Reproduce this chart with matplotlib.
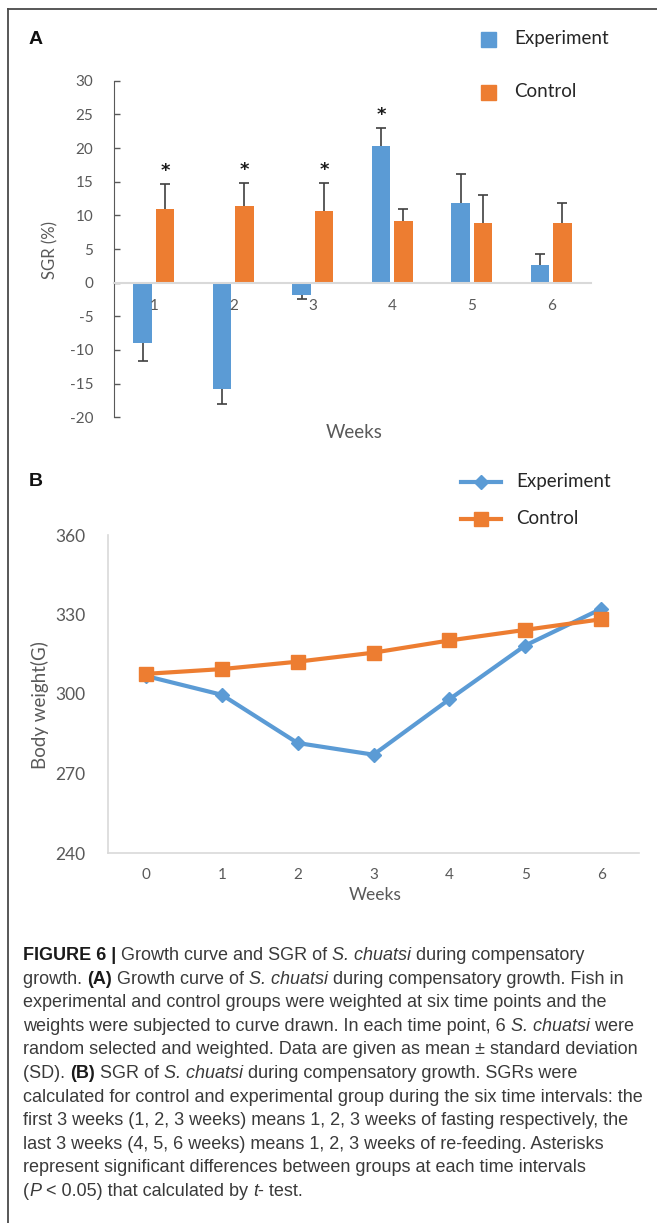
import matplotlib
matplotlib.use('Agg')
import matplotlib.pyplot as plt
from matplotlib import font_manager
from matplotlib.font_manager import FontProperties
from matplotlib.lines import Line2D
from matplotlib.patches import Rectangle
import numpy as np

# --- datos ---
sgr_weeks = ['1', '2', '3', '4', '5', '6']
sgr_exp = [-9.0, -15.8, -1.8, 20.3, 11.9, 2.6]
sgr_exp_sd = [2.7, 2.2, 0.6, 2.7, 4.2, 1.7]
sgr_ctrl = [10.9, 11.4, 10.6, 9.2, 8.9, 8.9]
sgr_ctrl_sd = [3.75, 3.4, 4.2, 1.7, 4.1, 2.9]
sig_exp = [False, False, False, True, False, False]
sig_ctrl = [True, True, True, False, False, False]

bw_weeks = ['0', '1', '2', '3', '4', '5', '6']
bw_exp = [306.8, 299.7, 281.5, 277.1, 298.0, 318.3, 332.1]
bw_ctrl = [307.6, 309.4, 312.2, 315.6, 320.2, 324.2, 328.2]

caption = [
    [("FIGURE 6 |", 'b'), (" Growth curve and SGR of ", 'n'), ("S. chuatsi", 'i'), (" during compensatory", 'n')],
    [("growth. ", 'n'), ("(A)", 'b'), (" Growth curve of ", 'n'), ("S. chuatsi", 'i'),
     (" during compensatory growth. Fish in", 'n')],
    [("experimental and control groups were weighted at six time points and the", 'n')],
    [("weights were subjected to curve drawn. In each time point, 6 ", 'n'), ("S. chuatsi", 'i'), (" were", 'n')],
    [("random selected and weighted. Data are given as mean \u00b1 standard deviation", 'n')],
    [("(SD). ", 'n'), ("(B)", 'b'), (" SGR of ", 'n'), ("S. chuatsi", 'i'),
     (" during compensatory growth. SGRs were", 'n')],
    [("calculated for control and experimental group during the six time intervals: the", 'n')],
    [("first 3 weeks (1, 2, 3 weeks) means 1, 2, 3 weeks of fasting respectively, the", 'n')],
    [("last 3 weeks (4, 5, 6 weeks) means 1, 2, 3 weeks of re-feeding. Asterisks", 'n')],
    [("represent significant differences between groups at each time intervals", 'n')],
    [("(", 'n'), ("P", 'i'), (" < 0.05) that calculated by ", 'n'), ("t", 'i'), ("- test.", 'n')],
]

BLUE = '#5B9BD5'
ORANGE = '#ED7D31'
GREY = '#595959'
LIGHT = '#D9D9D9'
ERR = '#404040'
W, H = 657, 1223


def fx(px):
    return px / W


def fy(py):
    return 1 - py / H


plt.rcParams['font.family'] = ['Lato', 'DejaVu Sans']
plt.rcParams['axes.unicode_minus'] = False
fig = plt.figure(figsize=(W / 100, H / 100), dpi=100)

# marco
fig.add_artist(Line2D([fx(8), 1], [fy(9), fy(9)], color='#4a4a4a', lw=1.3, transform=fig.transFigure))
fig.add_artist(Line2D([fx(8), fx(8)], [fy(9), 0], color='#4a4a4a', lw=1.3, transform=fig.transFigure))

# --- A: SGR ---
axA = fig.add_axes([fx(114), fy(417.3), 477 / W, (417.3 - 80.7) / H])
x = np.arange(1, len(sgr_weeks) + 1)
off, w = 0.14, 0.23
axA.bar(x - off, sgr_exp, w, color=BLUE)
axA.bar(x + off, sgr_ctrl, w, color=ORANGE)

# barras de error de un solo lado (hacia fuera de la barra)
for vals, sds, xs in [(sgr_exp, sgr_exp_sd, x - off), (sgr_ctrl, sgr_ctrl_sd, x + off)]:
    tips = [v + s if v >= 0 else v - s for v, s in zip(vals, sds)]
    axA.vlines(xs, vals, tips, color=ERR, lw=1.2, zorder=3)
    axA.plot(xs, tips, ls='none', marker='_', ms=7.2, mew=1.2, color=ERR, zorder=3)

for flags, vals, sds, xs in [(sig_exp, sgr_exp, sgr_exp_sd, x - off), (sig_ctrl, sgr_ctrl, sgr_ctrl_sd, x + off)]:
    for f, v, s, xx in zip(flags, vals, sds, xs):
        if f:
            axA.annotate('*', xy=(xx, v + s), xytext=(0, 3), textcoords='offset points',
                         ha='center', va='bottom', fontsize=13, fontweight='bold',
                         family='DejaVu Sans', color='#1a1a1a')

axA.set_xlim(0.5, 6.5)
axA.set_ylim(-20, 30)
axA.set_yticks(range(-20, 31, 5))
axA.set_xticks(x)
axA.set_xticklabels(sgr_weeks)
axA.spines['top'].set_visible(False)
axA.spines['right'].set_visible(False)
axA.spines['left'].set_color(GREY)
axA.spines['bottom'].set_position(('data', 0))
axA.spines['bottom'].set_color(LIGHT)
axA.spines['bottom'].set_linewidth(1.5)
axA.tick_params(axis='y', direction='in', length=4.5, width=1, color=GREY,
                labelcolor=GREY, labelsize=11, pad=15)
axA.tick_params(axis='x', length=0, labelcolor=GREY, labelsize=11, pad=12)

fig.text(fx(50), fy(250), 'SGR (%)', rotation=90, ha='center', va='center', fontsize=12, color=GREY)
fig.text(fx(354), fy(433), 'Weeks', ha='center', va='center', fontsize=13.5, color=GREY)
fig.text(fx(36), fy(40), 'A', ha='center', va='center', fontsize=14, fontweight='bold',
         family='Liberation Sans', color='#111111')

# leyenda A
for py, col, lab in [(39.5, BLUE, 'Experiment'), (92.5, ORANGE, 'Control')]:
    fig.add_artist(Rectangle((fx(481), fy(py + 7.5)), 15 / W, 15 / H, color=col, transform=fig.transFigure))
    fig.text(fx(514), fy(py - 1), lab, ha='left', va='center', fontsize=13.5, color='#262626')

# --- B: peso corporal ---
axB = fig.add_axes([fx(108), fy(853), (639 - 108) / W, (853 - 535) / H])
xb = np.arange(len(bw_weeks))
axB.plot(xb, bw_exp, color=BLUE, lw=3, marker='D', ms=7, zorder=3)
axB.plot(xb, bw_ctrl, color=ORANGE, lw=3, marker='s', ms=10, zorder=4)
axB.set_xlim(-0.5, 6.5)
axB.set_ylim(240, 360)
axB.set_yticks([240, 270, 300, 330, 360])
axB.set_xticks(xb)
axB.set_xticklabels(bw_weeks)
axB.spines['top'].set_visible(False)
axB.spines['right'].set_visible(False)
for s in ['left', 'bottom']:
    axB.spines[s].set_color(LIGHT)
    axB.spines[s].set_linewidth(1.2)
axB.tick_params(axis='y', length=0, labelcolor=GREY, labelsize=12.5, pad=16)
axB.tick_params(axis='x', length=0, labelcolor=GREY, labelsize=11, pad=11)

fig.text(fx(40), fy(705), 'Body weight(G)', rotation=90, ha='center', va='center', fontsize=13.5, color=GREY)
fig.text(fx(375), fy(895), 'Weeks', ha='center', va='center', fontsize=12.5, color=GREY)
fig.text(fx(36), fy(481), 'B', ha='center', va='center', fontsize=14, fontweight='bold',
         family='Liberation Sans', color='#111111')

# leyenda B
for py, col, mk, ms, lab in [(482, BLUE, 'D', 7, 'Experiment'), (519, ORANGE, 's', 10, 'Control')]:
    fig.add_artist(Line2D([fx(461), fx(501)], [fy(py), fy(py)], color=col, lw=3, transform=fig.transFigure))
    fig.add_artist(Line2D([fx(481)], [fy(py)], color=col, marker=mk, ms=ms, transform=fig.transFigure))
    fig.text(fx(516), fy(py - 1), lab, ha='left', va='center', fontsize=13.5, color='#262626')

# --- pie de figura ---
names = {f.name for f in font_manager.fontManager.ttflist}
cap_family = 'Liberation Sans Narrow' if 'Liberation Sans Narrow' in names else 'Liberation Sans'
renderer = fig.canvas.get_renderer()


def run_width(s, prop):
    w1 = renderer.get_text_width_height_descent('|' + s + '|', prop, ismath=False)[0]
    w0 = renderer.get_text_width_height_descent('||', prop, ismath=False)[0]
    return w1 - w0


probe = FontProperties(family=cap_family, size=10)
cap_size = min(13.4, 10 * 624 / run_width(caption[6][0][0], probe))

for i, line in enumerate(caption):
    xp = 23
    yp = 960 + 23.6 * i
    for txt, st in line:
        prop = FontProperties(family=cap_family, size=cap_size,
                              weight='bold' if st == 'b' else 'normal',
                              style='italic' if st == 'i' else 'normal')
        fig.text(fx(xp), fy(yp), txt, fontproperties=prop, ha='left', va='baseline',
                 color='#1a1a1a' if st == 'b' else '#3a3a3a')
        xp += run_width(txt, prop)

fig.savefig('out.png', dpi=100)
